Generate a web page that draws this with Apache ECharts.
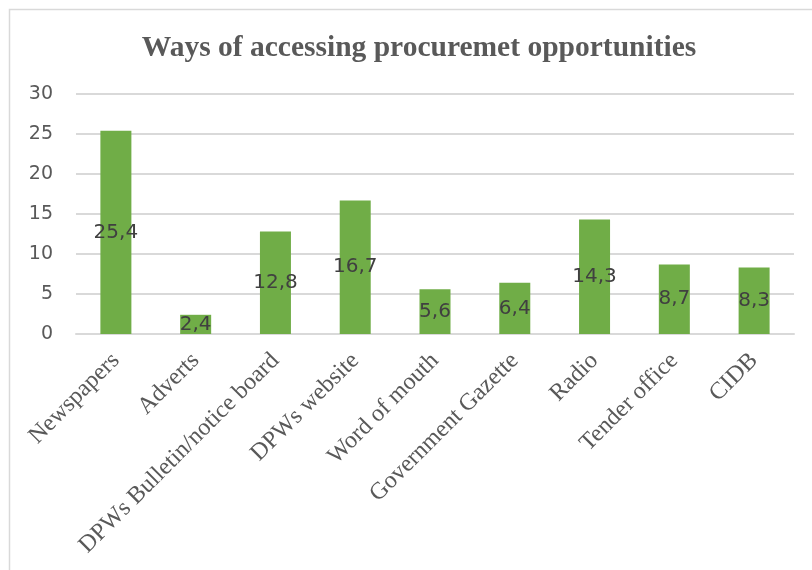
<!DOCTYPE html>
<html>
<head>
<meta charset="utf-8">
<script src="https://cdn.jsdelivr.net/npm/echarts@6/dist/echarts.min.js"></script>
<style>
  html, body { margin: 0; padding: 0; background: #ffffff; }
  #chart { width: 812px; height: 570px; }
</style>
</head>
<body>
<div id="chart"></div>
<script>
// Survey answers: how respondents learn about procurement opportunities (%)
const categories = [
  'Newspapers', 'Adverts', 'DPWs Bulletin/notice board', 'DPWs website',
  'Word of mouth', 'Government Gazette', 'Radio', 'Tender office', 'CIDB'
];
const shares = [25.4, 2.4, 12.8, 16.7, 5.6, 6.4, 14.3, 8.7, 8.3];
const yTicks = { min: 0, max: 30, interval: 5 };
const chartTitle = 'Ways of accessing procuremet opportunities';

const textGray = '#595959';
const gridGray = '#d9d9d9';
const barGreen = '#70ad47';

const chart = echarts.init(document.getElementById('chart'), null, { renderer: 'canvas' });

chart.setOption({
  backgroundColor: '#ffffff',
  animation: false,
  graphic: [
    {
      type: 'rect',
      left: 7, top: 7,
      shape: { x: 0, y: 0, width: 900, height: 700 },
      style: { fill: 'none', stroke: gridGray, lineWidth: 1.5 },
      silent: true,
      z: -1
    }
  ],
  title: {
    text: chartTitle,
    left: 414,
    top: 28,
    textAlign: 'center',
    textStyle: {
      fontFamily: '"Liberation Serif", "Times New Roman", serif',
      fontWeight: 'bold',
      fontSize: 29.5,
      color: textGray
    }
  },
  grid: { left: 76, right: 18, top: 94, bottom: 236, containLabel: false },
  xAxis: {
    type: 'category',
    data: categories,
    axisLine: { show: true, lineStyle: { color: gridGray, width: 2 } },
    axisTick: { show: false },
    axisLabel: {
      interval: 0,
      rotate: 45,
      margin: 23,
      fontFamily: '"Liberation Serif", "Times New Roman", serif',
      fontSize: 24,
      color: textGray
    }
  },
  yAxis: {
    type: 'value',
    min: yTicks.min,
    max: yTicks.max,
    interval: yTicks.interval,
    axisLine: { show: false },
    axisTick: { show: false },
    splitLine: { show: true, lineStyle: { color: gridGray, width: 2 } },
    axisLabel: {
      margin: 23,
      fontFamily: '"DejaVu Sans", sans-serif',
      fontSize: 19,
      color: textGray
    }
  },
  series: [
    {
      type: 'bar',
      data: shares,
      barWidth: 31,
      itemStyle: { color: barGreen },
      label: {
        show: true,
        position: 'inside',
        fontFamily: '"DejaVu Sans", sans-serif',
        fontSize: 20,
        color: '#404040',
        formatter: p => String(p.value).replace('.', ',')
      }
    }
  ]
});
</script>
</body>
</html>
